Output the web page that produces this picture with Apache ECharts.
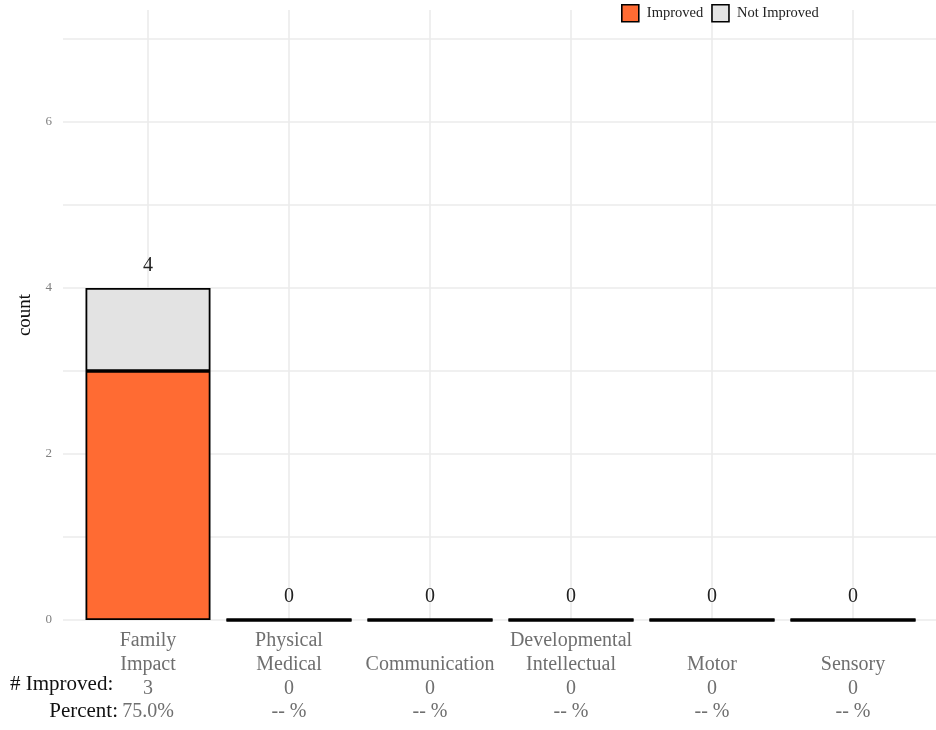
<!DOCTYPE html>
<html><head><meta charset="utf-8">
<script src="https://cdn.jsdelivr.net/npm/echarts@6/dist/echarts.min.js"></script>
<style>html,body{margin:0;padding:0;background:#fff}#c{width:936px;height:730px}</style>
</head><body><div id="c"></div>
<script>
const categories = ['Family\nImpact', 'Physical\nMedical', 'Communication', 'Developmental\nIntellectual', 'Motor', 'Sensory'];
const improved = [3, 0, 0, 0, 0, 0];
const notImproved = [1, 0, 0, 0, 0, 0];
const improvedCountLabels = ['3', '0', '0', '0', '0', '0'];
const percentLabels = ['75.0%', '-- %', '-- %', '-- %', '-- %', '-- %'];
const yTickLabels = ['0', '', '2', '', '4', '', '6', ''];
const yMax = 7.35;

const FONT = '"Liberation Serif", "DejaVu Serif", serif';
const totals = improved.map((v, i) => v + notImproved[i]);
const gridCol = '#EBEBEB';
const toItems = (arr) => arr.map(v => v === 0 ? { value: v, itemStyle: { borderWidth: 3 } } : v);

const chart = echarts.init(document.getElementById('c'));
chart.setOption({
  animation: false,
  backgroundColor: '#fff',
  textStyle: { fontFamily: FONT },
  legend: {
    top: 4, left: 621, padding: 0, itemWidth: 17, itemHeight: 17, itemGap: 8,
    icon: 'rect',
    itemStyle: { borderColor: '#000', borderWidth: 1.6 },
    textStyle: { fontFamily: FONT, fontSize: 14.5, color: '#222', padding: [0, 0, 0, 3] },
    data: ['Improved', 'Not Improved']
  },
  grid: [
    { left: 63, right: -1, top: 10, bottom: 110 },
    { left: 148, right: 83, top: 10, bottom: 110 },
    { left: 77.5, width: 846, top: 10, bottom: 110 }
  ],
  xAxis: [
    { gridIndex: 0, type: 'value', min: 0, max: 1, show: false, splitLine: { show: false } },
    { gridIndex: 1, type: 'category', boundaryGap: false, data: categories,
      axisLine: { show: false }, axisTick: { show: false }, axisLabel: { show: false },
      splitLine: { show: true, interval: 0, lineStyle: { color: gridCol, width: 1.6 } } },
    { gridIndex: 2, type: 'category', boundaryGap: true, data: categories,
      axisLine: { show: false }, axisTick: { show: false }, splitLine: { show: false },
      axisLabel: {
        interval: 0, margin: 9, verticalAlign: 'top',
        formatter: (val, idx) => {
          const parts = val.split('\n');
          if (parts.length === 1) parts.unshift(' ');
          return parts.map(p => '{n|' + p + '}').join('\n') + '\n{v|' + improvedCountLabels[idx] + '}\n{v|' + percentLabels[idx] + '}';
        },
        rich: {
          n: { fontFamily: FONT, fontSize: 20, color: '#6f6f6f', lineHeight: 23.7 },
          v: { fontFamily: FONT, fontSize: 20, color: '#6f6f6f', lineHeight: 23.7 }
        }
      } }
  ],
  yAxis: [
    { gridIndex: 0, type: 'value', min: 0, max: yMax, interval: 1,
      name: 'count', nameLocation: 'middle', nameRotate: 90, nameGap: 24,
      nameTextStyle: { fontFamily: FONT, fontSize: 19, color: '#111' },
      axisLine: { show: false }, axisTick: { show: false },
      axisLabel: { margin: 11, fontFamily: FONT, fontSize: 13, color: '#808080', showMaxLabel: false,
        formatter: (v) => { const i = Math.round(v); return (Math.abs(v - i) < 1e-6 && yTickLabels[i] !== undefined) ? yTickLabels[i] : ''; } },
      splitLine: { show: true, showMaxLine: false, lineStyle: { color: gridCol, width: 1.6 } } },
    { gridIndex: 1, type: 'value', min: 0, max: yMax, show: false, splitLine: { show: false } },
    { gridIndex: 2, type: 'value', min: 0, max: yMax, show: false, splitLine: { show: false } }
  ],
  graphic: [
    { type: 'text', left: 10, top: 674, style: { text: '# Improved:', font: '21px ' + FONT, fill: '#111' } },
    { type: 'text', right: 936 - 118, top: 701, style: { text: 'Percent:', font: '21px ' + FONT, fill: '#111', textAlign: 'right' } }
  ],
  series: [
    { name: 'Improved', type: 'bar', stack: 's', xAxisIndex: 2, yAxisIndex: 2, barWidth: 125, z: 5,
      data: toItems(improved),
      itemStyle: { color: '#FF6B33', borderColor: '#000', borderWidth: 1.8 } },
    { name: 'Not Improved', type: 'bar', stack: 's', xAxisIndex: 2, yAxisIndex: 2, barWidth: 125, z: 5,
      data: toItems(notImproved),
      itemStyle: { color: '#E3E3E3', borderColor: '#000', borderWidth: 1.8 },
      label: { show: true, position: 'top', distance: 12, fontFamily: FONT, fontSize: 20, color: '#222',
        formatter: (p) => String(totals[p.dataIndex]) } }
  ]
});
</script></body></html>
